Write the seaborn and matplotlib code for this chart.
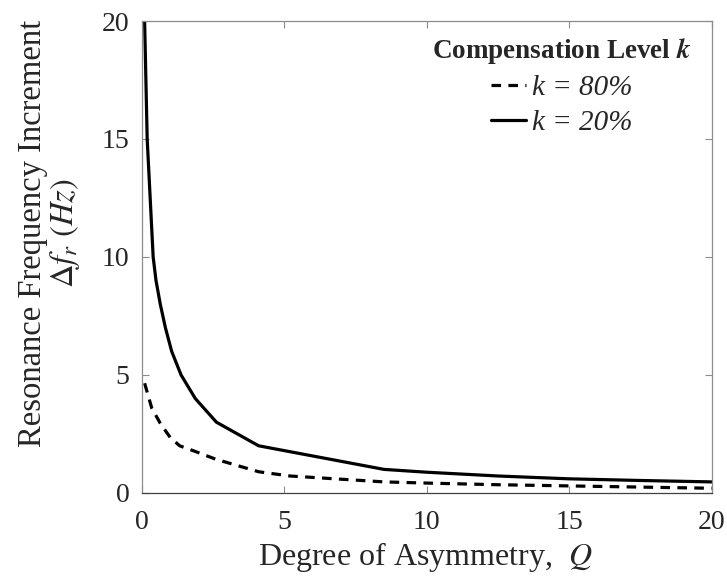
import numpy as np
import pandas as pd
import matplotlib
matplotlib.use('Agg')
import matplotlib.pyplot as plt
import seaborn as sns

# ------------ data ------------
q_20 = [0.1, 0.19, 0.4, 0.5, 0.65, 0.83, 1.05, 1.38, 1.88, 2.62, 4.1, 8.5, 10, 12.5, 15, 17.5, 20]
df_20 = [20, 15, 10, 9, 8, 7, 6, 5, 4, 3, 2, 1, 0.88, 0.72, 0.6, 0.53, 0.47]

q_80 = [0.1, 0.35, 0.65, 1.0, 1.33, 1.9, 2.6, 4.1, 5.2, 8.5, 10, 12.5, 15, 17.5, 20]
df_80 = [4.65, 3.6, 2.95, 2.35, 2.0, 1.75, 1.43, 0.9, 0.72, 0.47, 0.42, 0.35, 0.3, 0.25, 0.2]

labels = ['k = 80%', 'k = 20%']

data = pd.concat([
    pd.DataFrame({'Q': q_80, 'df': df_80, 'level': labels[0]}),
    pd.DataFrame({'Q': q_20, 'df': df_20, 'level': labels[1]}),
])

# ------------ style ------------
sns.set_style('ticks')
plt.rcParams['font.family'] = ['Liberation Serif', 'DejaVu Serif']
plt.rcParams['mathtext.fontset'] = 'stix'
plt.rcParams['axes.edgecolor'] = '#8c8c8c'
plt.rcParams['xtick.color'] = '#8c8c8c'
plt.rcParams['ytick.color'] = '#8c8c8c'
plt.rcParams['xtick.labelcolor'] = '#262626'
plt.rcParams['ytick.labelcolor'] = '#262626'

fig = plt.figure(figsize=(7.27, 5.77), dpi=100)
ax = fig.add_axes([0.195, 0.1456, 0.784, 0.818])

sns.lineplot(data=data, x='Q', y='df', hue='level', style='level',
             hue_order=labels, style_order=labels,
             palette=['black', 'black'], dashes=[(3, 2.3), ''],
             linewidth=2.3, sort=False, ax=ax)

ax.set_xlim(0, 20)
ax.set_ylim(0, 20)
ax.set_xticks([0, 5, 10, 15, 20])
ax.set_yticks([0, 5, 10, 15, 20])
ax.tick_params(direction='in', top=True, right=True, length=5, width=0.8,
               labelsize=20)
ax.tick_params(axis='x', pad=12)
ax.tick_params(axis='y', pad=9)
for s in ax.spines.values():
    s.set_linewidth(0.9)
ax.spines['bottom'].set_color('#404040')

ax.set_xlabel('Degree of Asymmetry,  $\\mathit{Q}$', fontsize=23, color='#262626')
ax.xaxis.set_label_coords(0.497, -0.136)
ax.xaxis.label.set_va('center')
ax.set_ylabel('Resonance Frequency Increment\n$\\mathit{\\Delta f_r}$ $\\mathit{(Hz)}$',
              fontsize=23.5, color='#262626', linespacing=1.0)
ax.yaxis.set_label_coords(-0.161, 0.55)
ax.yaxis.label.set_va('center')

leg = ax.legend(title='Compensation Level $\\mathbfit{k}$', frameon=False,
                loc='upper right', bbox_to_anchor=(1.0, 1.012),
                handlelength=1.2, handletextpad=0.2, borderaxespad=0.3,
                prop={'style': 'italic', 'size': 21}, labelspacing=0.3)
leg.get_title().set_fontweight('bold')
leg.get_title().set_fontsize(19.5)

fig.savefig('out.png', dpi=100)
